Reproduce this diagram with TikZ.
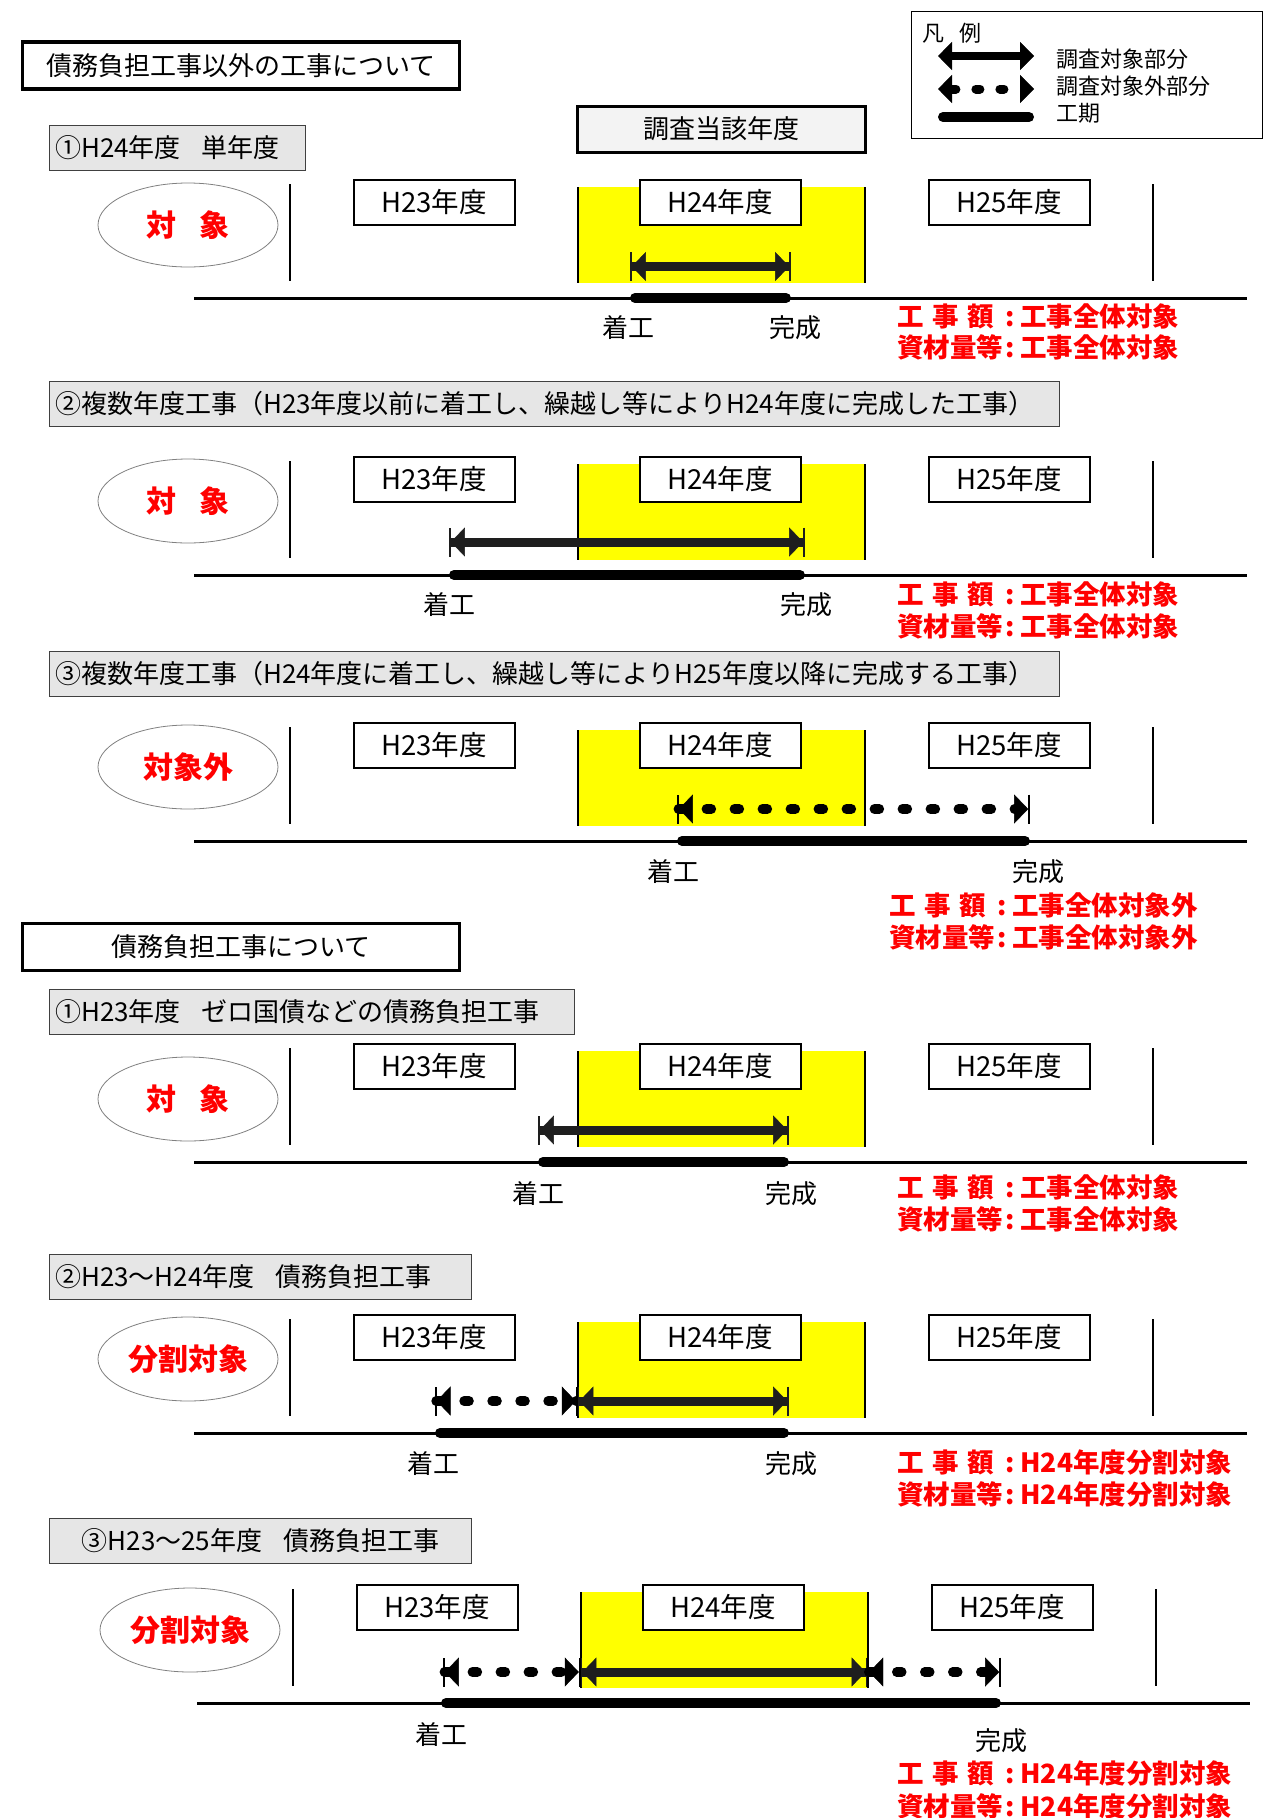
\documentclass[tikz,border=0pt]{standalone}
\usepackage{fontspec}
\setmainfont{Noto Sans CJK JP}
\usetikzlibrary{arrows.meta,shapes.geometric}
\definecolor{yfill}{HTML}{FFFF00}
\definecolor{subgray}{HTML}{E6E6E6}
\definecolor{boxgray}{HTML}{F3F3F3}
\definecolor{shaftcol}{HTML}{1E1E1E}
\definecolor{ellcol}{HTML}{808080}
\newcommand{\fsz}[1]{\fontsize{#1pt}{#1pt}\selectfont}
\newcommand{\redhead}[1]{\makebox[4.1em][l]{#1}:\hspace{0.2em}}
\tikzset{
  sectitle/.style={draw, line width=3.8pt, fill=white, minimum width=437pt, minimum height=47pt, inner sep=0pt, font=\fsz{26}},
  subbox/.style={draw=black!75, line width=1pt, fill=subgray, minimum height=45pt, inner sep=0pt, anchor=west},
  subtext/.style={font=\fsz{26}, inner sep=0pt, anchor=west},
  yearbox/.style={draw, line width=2pt, fill=white, minimum width=161pt, minimum height=45pt, inner sep=0pt, font=\fsz{27.5}},
  judge/.style={draw=ellcol, line width=0.8pt, ellipse, minimum width=180pt, minimum height=84pt, inner sep=0pt, text=red, font=\fsz{30}\bfseries},
  evlabel/.style={font=\fsz{26}, inner sep=0pt},
  redtext/.style={font=\fsz{26.5}\bfseries, text=red, inner sep=0pt, anchor=west},
  period/.style={line width=10pt, line cap=round},
  timeline/.style={line width=3pt},
  sepline/.style={line width=2pt},
  solidarr/.style={draw=shaftcol, line width=9pt, arrows={Bar[width=29pt,line width=1.8pt,sep=0pt]Triangle[width=29pt,length=14pt,line width=0.4pt,sep=0pt]-Triangle[width=29pt,length=14pt,line width=0.4pt,sep=0pt]Bar[width=29pt,line width=1.8pt,sep=0pt]}},
  dasharr/.style={draw=black, line width=9.5pt, line cap=round, dash pattern=on 5pt off 23pt, arrows={Bar[width=29pt,line width=1.8pt,sep=0pt]Triangle[width=29pt,length=14pt,line width=0.4pt,sep=0pt]-Triangle[width=29pt,length=14pt,line width=0.4pt,sep=0pt]Bar[width=29pt,line width=1.8pt,sep=0pt]}},
  legsolid/.style={draw=black, line width=8pt, arrows={Triangle[width=28pt,length=14pt,line width=0.4pt]-Triangle[width=28pt,length=14pt,line width=0.4pt]}},
  legdash/.style={draw=black, line width=9pt, line cap=round, dash pattern=on 4pt off 20pt, arrows={Triangle[width=28pt,length=14pt,line width=0.4pt]-Triangle[width=28pt,length=14pt,line width=0.4pt]}},
  legtext/.style={font=\fsz{22}, inner sep=0pt, anchor=west},
  yearframe/.pic={
    \fill[yfill] (577.6,-111) rectangle (864.5,-15);
    \draw[sepline] (577.6,-111) -- (577.6,-15);
    \draw[sepline] (864.5,-111) -- (864.5,-15);
    \draw[sepline] (290,-114) -- (290,-17);
    \draw[sepline] (1152.7,-114) -- (1152.7,-17);
    \draw[timeline] (194,0) -- (1247,0);
    \node[yearbox] (-h23) at (434,-95.5) {H23年度};
    \node[yearbox] (-h24) at (720,-95.5) {H24年度};
    \node[yearbox] (-h25) at (1009,-95.5) {H25年度};
  }
}
\begin{document}
\begin{tikzpicture}[x=1pt,y=-1pt]
\useasboundingbox (0,0) rectangle (1271,1818);

% ---------- header ----------
\node[sectitle] (title1) at (241,65.4) {債務負担工事以外の工事について};
\node[draw, line width=3pt, fill=boxgray, minimum width=288pt, minimum height=46pt, inner sep=0pt, font=\fsz{26}] (target) at (721,129) {調査当該年度};

% legend
\node[draw, line width=1pt, minimum width=351pt, minimum height=127pt, inner sep=0pt] (legend) at (1086.5,74.5) {};
\node[legtext] (legtitle) at (922,33) {凡\hspace{0.7em}例};
\coordinate (lga) at (938,56); \coordinate (lgb) at (1034,56);
\draw[legsolid] (lga) -- (lgb);
\coordinate (lgc) at (938,89); \coordinate (lgd) at (1034,89);
\draw[legdash] (lgc) -- (lgd);
\coordinate (lge) at (943,117); \coordinate (lgf) at (1029,117);
\draw[period] (lge) -- (lgf);
\node[legtext] (lg1) at (1056,59) {調査対象部分};
\node[legtext] (lg2) at (1056,86) {調査対象外部分};
\node[legtext] (lg3) at (1056,113) {工期};

% ---------- section 1 ----------
\node[subbox, minimum width=255.6pt] (s1box) at (49.4,148) {};
\node[subtext] (s1txt) at (55,148) {①H24年度\hspace{0.8em}単年度};
\pic (s1) at (0,298) {yearframe};
\node[judge] (s1j) at (188,225) {対\hspace{0.77em}象};
\coordinate (s1a) at (630,266.5); \coordinate (s1b) at (791,266.5);
\draw[solidarr] (s1a) -- (s1b);
\coordinate (s1p) at (635,298); \coordinate (s1q) at (786,298);
\draw[period] (s1p) -- (s1q);
\node[evlabel] (s1st) at (628,328) {着工};
\node[evlabel] (s1en) at (795,328) {完成};
\node[redtext] (s1r1) at (897,316) {\redhead{工\hspace{0.32em}事\hspace{0.32em}額}工事全体対象};
\node[redtext] (s1r2) at (897,347) {\redhead{資材量等}工事全体対象};

% ---------- section 2 ----------
\node[subbox, minimum width=1009.6pt] (s2box) at (49.4,404) {};
\node[subtext] (s2txt) at (55,404) {②複数年度工事（H23年度以前に着工し、繰越し等によりH24年度に完成した工事）};
\pic (s2) at (0,575) {yearframe};
\node[judge] (s2j) at (188,501) {対\hspace{0.77em}象};
\coordinate (s2a) at (449,542); \coordinate (s2b) at (805,542);
\draw[solidarr] (s2a) -- (s2b);
\coordinate (s2p) at (454,575); \coordinate (s2q) at (800,575);
\draw[period] (s2p) -- (s2q);
\node[evlabel] (s2st) at (449,605) {着工};
\node[evlabel] (s2en) at (806,605) {完成};
\node[redtext] (s2r1) at (897,594) {\redhead{工\hspace{0.32em}事\hspace{0.32em}額}工事全体対象};
\node[redtext] (s2r2) at (897,626) {\redhead{資材量等}工事全体対象};

% ---------- section 3 ----------
\node[subbox, minimum width=1009.6pt] (s3box) at (49.4,673.5) {};
\node[subtext] (s3txt) at (55,673.5) {③複数年度工事（H24年度に着工し、繰越し等によりH25年度以降に完成する工事）};
\pic (s3) at (0,841) {yearframe};
\node[judge] (s3j) at (188,767) {対象外};
\coordinate (s3a) at (677,809); \coordinate (s3b) at (1030,809);
\draw[dasharr] (s3a) -- (s3b);
\coordinate (s3p) at (682,841); \coordinate (s3q) at (1025,841);
\draw[period] (s3p) -- (s3q);
\node[evlabel] (s3st) at (673,872) {着工};
\node[evlabel] (s3en) at (1038,872) {完成};
\node[redtext] (s3r1) at (889,905) {\redhead{工\hspace{0.32em}事\hspace{0.32em}額}工事全体対象外};
\node[redtext] (s3r2) at (889,937) {\redhead{資材量等}工事全体対象外};

% ---------- title 2 ----------
\node[sectitle] (title2) at (241,947) {債務負担工事について};

% ---------- B1 ----------
\node[subbox, minimum width=524.1pt] (b1box) at (49.4,1011.5) {};
\node[subtext] (b1txt) at (55,1011.5) {①H23年度\hspace{0.8em}ゼロ国債などの債務負担工事};
\pic (b1) at (0,1162) {yearframe};
\node[judge] (b1j) at (188,1099) {対\hspace{0.77em}象};
\coordinate (b1a) at (538,1130); \coordinate (b1b) at (789,1130);
\draw[solidarr] (b1a) -- (b1b);
\coordinate (b1p) at (543,1162); \coordinate (b1q) at (784,1162);
\draw[period] (b1p) -- (b1q);
\node[evlabel] (b1st) at (538,1194) {着工};
\node[evlabel] (b1en) at (791,1194) {完成};
\node[redtext] (b1r1) at (897,1187) {\redhead{工\hspace{0.32em}事\hspace{0.32em}額}工事全体対象};
\node[redtext] (b1r2) at (897,1219) {\redhead{資材量等}工事全体対象};

% ---------- B2 ----------
\node[subbox, minimum width=422pt] (b2box) at (49.4,1276.5) {};
\node[subtext] (b2txt) at (55,1276.5) {②H23～H24年度\hspace{0.8em}債務負担工事};
\pic (b2) at (0,1433) {yearframe};
\node[judge] (b2j) at (188,1359) {分割対象};
\coordinate (b2a) at (434.7,1401); \coordinate (b2m) at (577.6,1401); \coordinate (b2b) at (789,1401);
\draw[dasharr] (b2a) -- (b2m);
\draw[solidarr] (b2m) -- (b2b);
\coordinate (b2p) at (440,1433); \coordinate (b2q) at (784,1433);
\draw[period] (b2p) -- (b2q);
\node[evlabel] (b2st) at (433,1464) {着工};
\node[evlabel] (b2en) at (791,1464) {完成};
\node[redtext] (b2r1) at (897,1462) {\redhead{工\hspace{0.32em}事\hspace{0.32em}額}H24年度分割対象};
\node[redtext] (b2r2) at (897,1494) {\redhead{資材量等}H24年度分割対象};

% ---------- B3 ----------
\node[subbox, minimum width=422pt] (b3box) at (49.4,1540.5) {};
\node[font=\fsz{26}, inner sep=0pt] (b3txt) at (260.4,1540.5) {③H23～25年度\hspace{0.8em}債務負担工事};
\pic (b3) at (3,1703) {yearframe};
\node[judge] (b3j) at (190,1630) {分割対象};
\coordinate (b3a) at (443,1672); \coordinate (b3m) at (580.6,1672); \coordinate (b3n) at (867.4,1672); \coordinate (b3b) at (1001,1672);
\draw[dasharr] (b3a) -- (b3m);
\draw[solidarr] (b3m) -- (b3n);
\draw[dasharr] (b3n) -- (b3b);
\coordinate (b3p) at (446,1703); \coordinate (b3q) at (996,1703);
\draw[period] (b3p) -- (b3q);
\node[evlabel] (b3st) at (441,1735) {着工};
\node[evlabel] (b3en) at (1001,1741) {完成};
\node[redtext] (b3r1) at (897,1773) {\redhead{工\hspace{0.32em}事\hspace{0.32em}額}H24年度分割対象};
\node[redtext] (b3r2) at (897,1806) {\redhead{資材量等}H24年度分割対象};
\end{tikzpicture}
\end{document}
